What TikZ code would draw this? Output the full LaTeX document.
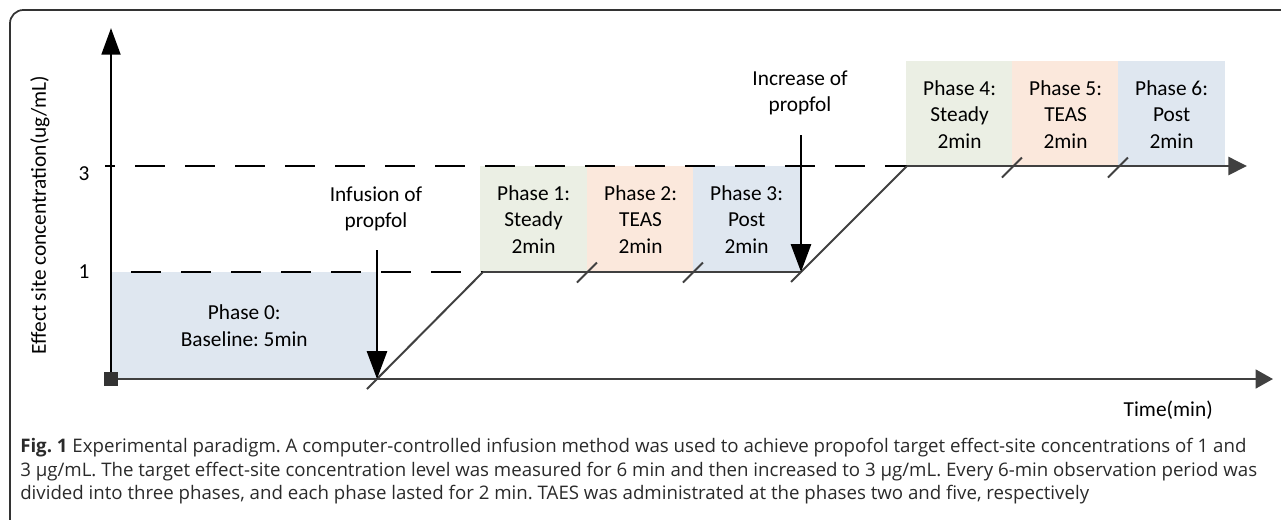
\documentclass[tikz,border=0pt]{standalone}
\usepackage{fontspec}
\setmainfont{Carlito}
\newfontfamily\capfam{Open Sans}
\usetikzlibrary{arrows.meta}
\definecolor{gfill}{HTML}{EBEFE4}
\definecolor{ofill}{HTML}{FBE8DC}
\definecolor{bfill}{HTML}{DFE7F0}
\definecolor{lgray}{HTML}{404040}
\definecolor{framec}{HTML}{333333}
\definecolor{captc}{HTML}{2A2A2A}
\frenchspacing
\begin{document}
\begin{tikzpicture}[x=0.75pt,y=-0.75pt,
  dfont/.style={font=\fontsize{16}{20}\selectfont},
  phasebox/.style={dfont, anchor=north west, inner sep=0pt, minimum width=80pt, minimum height=79.5pt, align=center},
  lbl/.style={dfont, align=center, inner sep=0pt},
  yaxis/.style={line width=2.2pt, -{Triangle[length=20pt,width=14pt]}},
  xaxis/.style={draw=lgray, line width=1.9pt, -{Triangle[length=13pt,width=14pt]}},
  toparrow/.style={draw=lgray, line width=1.9pt, -{Triangle[length=14pt,width=13.5pt]}},
  gline/.style={draw=lgray, line width=1.9pt},
  diag/.style={draw=lgray, line width=1.5pt},
  ticks/.style={draw=lgray, line width=1.5pt},
  dashline/.style={line width=1.2pt, dash pattern=on 22.5pt off 15pt},
  downarrow/.style={line width=2.2pt, -{Triangle[length=21pt,width=15pt]}},
  capfont/.style={font=\capfam\fontsize{14}{19}\selectfont, text=captc, inner sep=0pt}
]
\useasboundingbox (0,0) rectangle (1281,519);
% frame
\begin{scope}
\clip (0,0) rectangle (1281,519);
\draw[framec, line width=1.3pt, rounded corners=10pt] (1300,10) -- (10,10) -- (10,535) -- (40,535);
\end{scope}

% coordinates
\coordinate (O) at (111,379);
\coordinate (ytop) at (111,28);
\coordinate (xend) at (1273,379);

% phase 0 box
\node[phasebox, fill=bfill, minimum width=199.5pt, minimum height=80pt] (p0) at (111,272) {Phase 0:\\Baseline: 5min};

% phase boxes level 1
\node[phasebox, fill=gfill] (p1) at (480,166) {Phase 1:\\Steady\\2min};
\node[phasebox, fill=ofill] (p2) at (587,166) {Phase 2:\\TEAS\\2min};
\node[phasebox, fill=bfill] (p3) at (693,166) {Phase 3:\\Post\\2min};
% phase boxes level 3
\node[phasebox, fill=gfill] (p4) at (906,61) {Phase 4:\\Steady\\2min};
\node[phasebox, fill=ofill] (p5) at (1012,61) {Phase 5:\\TEAS\\2min};
\node[phasebox, fill=bfill] (p6) at (1118,61) {Phase 6:\\Post\\2min};

% dashed reference lines
\coordinate (d3s) at (105,166);
\coordinate (d3e) at (915,166);
\coordinate (d1s) at (111,272);
\coordinate (d1e) at (497,272);
\draw[dashline, dash phase=15pt] (d3s) -- (d3e);
\draw[dashline, dash phase=22.5pt] (d1s) -- (d1e);

% level lines
\coordinate (l1s) at (483,272);
\coordinate (l1e) at (801,272);
\coordinate (l3s) at (907,166);
\coordinate (l3e) at (1247,166);
\draw[gline] (l1s) -- (l1e);
\draw[toparrow] (l3s) -- (l3e);

% diagonals
\coordinate (inf) at (377,379);
\coordinate (dg1) at (367,389);
\coordinate (dg2) at (791,282);
\draw[diag] (dg1) -- (l1s);
\draw[diag] (dg2) -- (l3s);

% ticks at phase boundaries
\foreach \b in {p2,p3}{
  \draw[ticks] ([shift={(-10,10)}]\b.south west) -- ([shift={(10,-10)}]\b.south west);
}
\foreach \b in {p5,p6}{
  \draw[ticks] ([shift={(-10,10)}]\b.south west) -- ([shift={(10,-10)}]\b.south west);
}

% axes
\draw[xaxis] (O) -- (xend);
\draw[yaxis] (O) -- (ytop);
\node[fill=framec, minimum size=10.5pt, inner sep=0pt] (sq) at (O) {};

% down arrows
\coordinate (infs) at (377,250);
\coordinate (incs) at (801,135);
\draw[downarrow] (infs) -- (inf);
\draw[downarrow] (incs) -- (l1e);

% labels
\node[lbl] (inflbl) at (376,209) {Infusion of\\propfol};
\node[lbl] (inclbl) at (800,93) {Increase of\\propfol};
\node[lbl] (y3) at (84,174) {3};
\node[lbl] (y1) at (84,272) {1};
\node[lbl, rotate=90] (ylbl) at (40,215) {Effect site concentration(ug/mL)};
\node[lbl, anchor=base east] (tlbl) at (1213,416) {Time(min)};

% caption
\node[capfont, anchor=base west] (c1) at (20,452) {\textbf{Fig. 1} Experimental paradigm. A computer-controlled infusion method was used to achieve propofol target effect-site concentrations of 1 and};
\node[capfont, anchor=base west] (c2) at (20,476) {3 µg/mL. The target effect-site concentration level was measured for 6 min and then increased to 3 µg/mL. Every 6-min observation period was};
\node[capfont, anchor=base west] (c3) at (20,499) {divided into three phases, and each phase lasted for 2 min. TAES was administrated at the phases two and five, respectively};
\end{tikzpicture}
\end{document}
